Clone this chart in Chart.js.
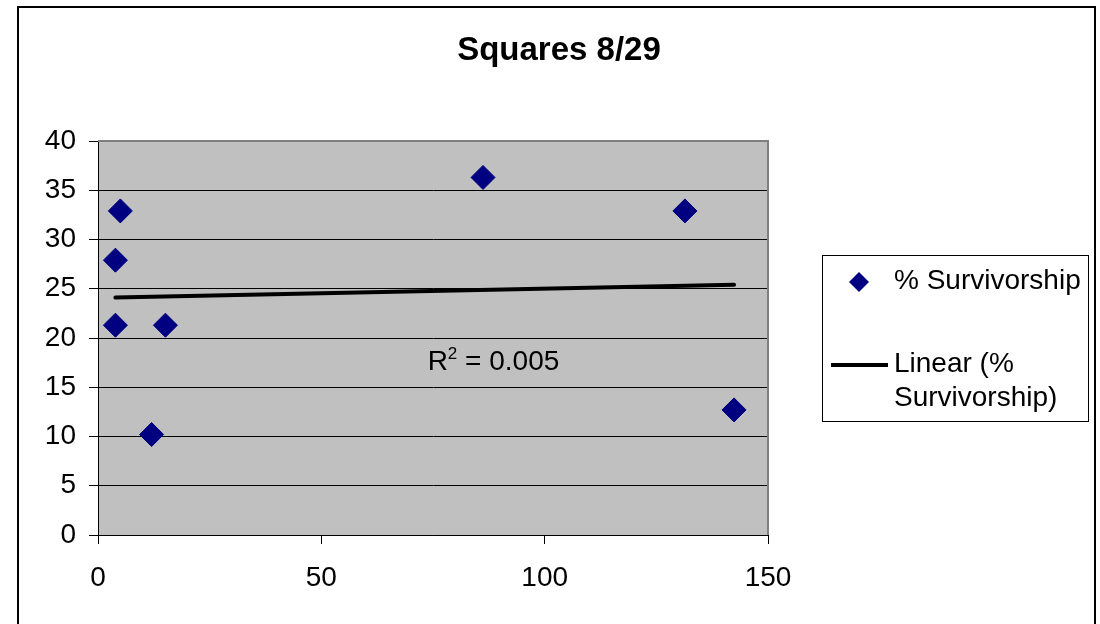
<!DOCTYPE html>
<html>
<head>
<meta charset="utf-8">
<script src="https://cdn.jsdelivr.net/npm/chart.js@4.4.0/dist/chart.umd.min.js"></script>
<style>
  body { margin: 0; background: #fff; }
  canvas { display: block; }
</style>
</head>
<body>
<canvas id="myChart" width="1100" height="624"></canvas>
<script>
// values
var chartTitle = 'Squares 8/29';
var seriesName = '% Survivorship';
var trendName = 'Linear (% Survivorship)';
var xs = [3.9, 3.9, 5.0, 12.0, 15.1, 86.2, 131.4, 142.4];
var ys = [21.3, 27.9, 32.9, 10.2, 21.3, 36.3, 32.9, 12.7];
var trendX = [3.9, 142.4];
var trendY = [24.1, 25.4];
var rSquared = '0.005';
var xTicks = [0, 50, 100, 150];
var yTicks = [0, 5, 10, 15, 20, 25, 30, 35, 40];

var points = [];
for (var i = 0; i < xs.length; i++) {
  points.push({x: xs[i], y: ys[i]});
}
var trendPoints = [];
for (var j = 0; j < trendX.length; j++) {
  trendPoints.push({x: trendX[j], y: trendY[j]});
}

var FONT = '"Liberation Sans", Arial, sans-serif';

var excelLook = {
  id: 'excelLook',
  beforeDraw: function(chart) {
    var ctx = chart.ctx;
    var a = chart.chartArea;
    ctx.save();
    ctx.fillStyle = '#ffffff';
    ctx.fillRect(0, 0, chart.width, chart.height);
    ctx.fillStyle = '#c0c0c0';
    ctx.fillRect(a.left, a.top, a.right - a.left, a.bottom - a.top);
    ctx.restore();
  },
  beforeDatasetsDraw: function(chart) {
    var ctx = chart.ctx;
    var a = chart.chartArea;
    ctx.save();
    ctx.strokeStyle = '#808080';
    ctx.lineWidth = 2;
    ctx.beginPath();
    ctx.moveTo(a.left, a.top);
    ctx.lineTo(a.right, a.top);
    ctx.lineTo(a.right, a.bottom);
    ctx.stroke();
    // R squared label
    var xs2 = chart.scales.x, ys2 = chart.scales.y;
    var tx = xs2.getPixelForValue(73.8);
    var ty = ys2.getPixelForValue(16.8);
    ctx.fillStyle = '#000';
    ctx.textBaseline = 'alphabetic';
    ctx.textAlign = 'left';
    ctx.font = '28px ' + FONT;
    ctx.fillText('R', tx, ty);
    var w = ctx.measureText('R').width;
    ctx.font = '17px ' + FONT;
    ctx.fillText('2', tx + w, ty - 11);
    var w2 = ctx.measureText('2').width;
    ctx.font = '28px ' + FONT;
    ctx.fillText(' = ' + rSquared, tx + w + w2, ty);
    ctx.restore();
  },
  afterDraw: function(chart) {
    var ctx = chart.ctx;
    ctx.save();
    // title
    ctx.fillStyle = '#000';
    ctx.font = 'bold 33px ' + FONT;
    ctx.textAlign = 'center';
    ctx.textBaseline = 'middle';
    ctx.fillText(chartTitle, 559, 51);

    // legend box
    ctx.strokeStyle = '#000';
    ctx.lineWidth = 1;
    ctx.strokeRect(822.5, 255.5, 266, 166);
    // diamond
    ctx.fillStyle = '#000080';
    ctx.beginPath();
    ctx.moveTo(859, 272);
    ctx.lineTo(869, 282);
    ctx.lineTo(859, 292);
    ctx.lineTo(849, 282);
    ctx.closePath();
    ctx.fill();
    // trend line sample
    ctx.strokeStyle = '#000';
    ctx.lineWidth = 4;
    ctx.beginPath();
    ctx.moveTo(831, 365);
    ctx.lineTo(888, 365);
    ctx.stroke();
    ctx.fillStyle = '#000';
    ctx.font = '28px ' + FONT;
    ctx.textAlign = 'left';
    ctx.textBaseline = 'middle';
    ctx.fillText(seriesName, 894, 281);
    var parts = trendName.split(' (');
    ctx.fillText(parts[0] + ' (%', 894, 364);
    ctx.fillText(parts[1].replace('% ', ''), 894, 398);

    // outer border
    ctx.lineWidth = 2;
    ctx.strokeRect(18, 7, 1077, 660);
    ctx.restore();
  }
};

var myChart = document.getElementById('myChart').getContext('2d');
var chart = new Chart(myChart, {
  type: 'scatter',
  data: {
    datasets: [{
      label: seriesName,
      data: points,
      pointStyle: 'rectRot',
      pointRadius: 12,
      pointHoverRadius: 12,
      backgroundColor: '#000080',
      borderColor: '#000080',
      borderWidth: 1,
      order: 1
    }, {
      type: 'line',
      label: trendName,
      data: trendPoints,
      borderColor: '#000',
      borderWidth: 4,
      borderCapStyle: 'round',
      pointRadius: 0,
      fill: false,
      order: 2
    }]
  },
  options: {
    responsive: false,
    animation: false,
    devicePixelRatio: 1,
    layout: {
      padding: {left: 0, top: 141, right: 332, bottom: 0}
    },
    plugins: {
      legend: {display: false},
      title: {display: false},
      tooltip: {enabled: false}
    },
    scales: {
      x: {
        type: 'linear',
        min: 0,
        max: 150,
        afterFit: function(scale) { scale.height = 89; },
        afterBuildTicks: function(scale) {
          scale.ticks = xTicks.map(function(v) { return {value: v}; });
        },
        grid: {
          drawOnChartArea: false,
          drawTicks: true,
          tickLength: 9,
          color: '#000',
          lineWidth: 1
        },
        border: {color: '#000', width: 1},
        ticks: {
          padding: 17,
          color: '#000',
          font: {size: 28, family: FONT}
        }
      },
      y: {
        min: 0,
        max: 40,
        afterFit: function(scale) { scale.width = 98; },
        afterBuildTicks: function(scale) {
          scale.ticks = yTicks.map(function(v) { return {value: v}; });
        },
        grid: {
          color: '#000',
          lineWidth: 1,
          tickLength: 9
        },
        border: {color: '#000', width: 1},
        ticks: {
          padding: 13,
          color: '#000',
          font: {size: 28, family: FONT}
        }
      }
    }
  },
  plugins: [excelLook]
});
</script>
</body>
</html>
